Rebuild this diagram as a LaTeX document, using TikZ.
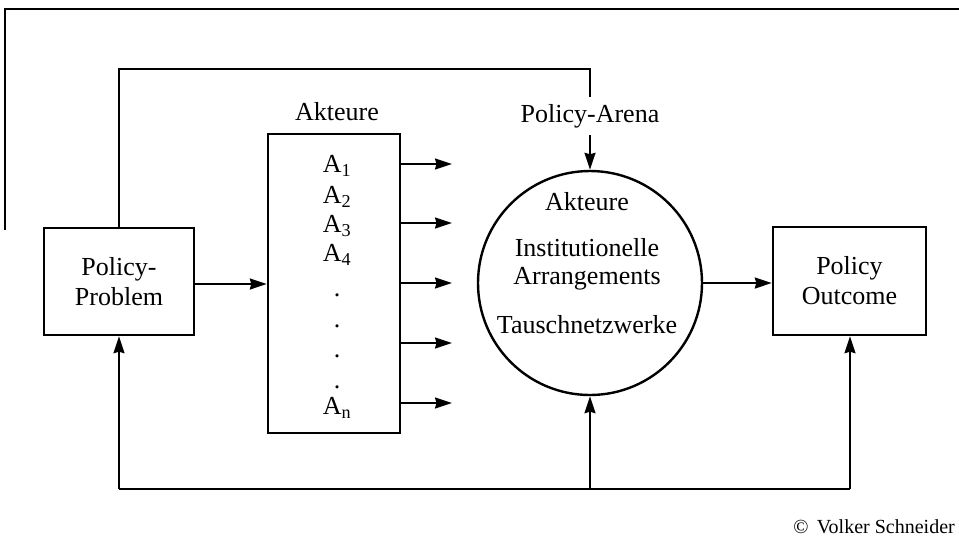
\documentclass[tikz,border=0pt]{standalone}
\usepackage{fontspec}
\setmainfont{Liberation Serif}
\usetikzlibrary{arrows.meta}
\begin{document}
\begin{tikzpicture}[x=1pt,y=-1pt,
  lbl/.style={inner sep=0pt, font=\fontsize{26}{30}\selectfont, align=center},
  boxx/.style={draw, line width=2.4pt, font=\fontsize{26}{30}\selectfont, align=center, inner sep=0pt},
  conn/.style={line width=2pt, -{Stealth[length=17pt,width=11pt,inset=1.5pt]}},
  plain/.style={line width=2pt}]
\useasboundingbox (0,0) rectangle (959,542);
% frame
\coordinate (f1) at (5,230);
\coordinate (f2) at (5,9);
\coordinate (f3) at (959,9);
\draw[line width=2.4pt] (f1) -- (f2) -- (f3);
% boxes
\node[boxx, minimum width=150pt, minimum height=107pt] (prob) at (119,281.5) {Policy-\\Problem};
\node[boxx, minimum width=153pt, minimum height=108pt] (out) at (849.5,281) {Policy\\Outcome};
\node[boxx, minimum width=132pt, minimum height=299pt] (akt) at (334,283.5) {};
\node[draw, circle, line width=2.4pt, minimum size=224pt, inner sep=0pt] (arena) at (590,283) {};
% labels
\node[lbl] (aktlbl) at (337,112) {Akteure};
\node[lbl, inner ysep=7pt] (arenalbl) at (590,116) {Policy-Arena};
\node[lbl] (a1) at (337,166) {A\textsubscript{1}};
\node[lbl] (a2) at (337,197) {A\textsubscript{2}};
\node[lbl] (a3) at (337,226) {A\textsubscript{3}};
\node[lbl] (a4) at (337,255) {A\textsubscript{4}};
\node[lbl] (d1) at (337,295) {.};
\node[lbl] (d2) at (337,326) {.};
\node[lbl] (d3) at (337,356) {.};
\node[lbl] (d4) at (337,387) {.};
\node[lbl] (an) at (337,408) {A\textsubscript{n}};
\node[lbl] (t1) at (587,202) {Akteure};
\node[lbl] (t2) at (587,248) {Institutionelle};
\node[lbl] (t3) at (587,279) {Arrangements};
\node[lbl] (t4) at (587,325) {Tauschnetzwerke};
\node[inner sep=0pt, font=\fontsize{20}{24}\selectfont, anchor=east] (copy) at (955,527) {©\ \,Volker Schneider};
% connectors
\draw[conn] (prob.east |- 0,284) -- (akt.west |- 0,284);
\foreach \y [count=\i] in {164,223,283,343,403} {
  \coordinate (e\i) at (452,\y);
  \draw[conn] (akt.east |- e\i) -- (e\i);
}
\draw[conn] (arena.east) -- (out.west |- arena.east);
\coordinate (tl) at (590,69);
\draw[plain] (prob.north) |- (tl) -- (tl |- arenalbl.north);
\draw[conn] (arenalbl.south) -- (arena.north);
\coordinate (bl) at (119,489);
\coordinate (br) at (850,489);
\draw[plain] (bl) -- (br);
\draw[conn] (bl) -- (prob.south);
\draw[conn] (arena.south |- bl) -- (arena.south);
\draw[conn] (br) -- (br |- out.south);
\end{tikzpicture}
\end{document}
